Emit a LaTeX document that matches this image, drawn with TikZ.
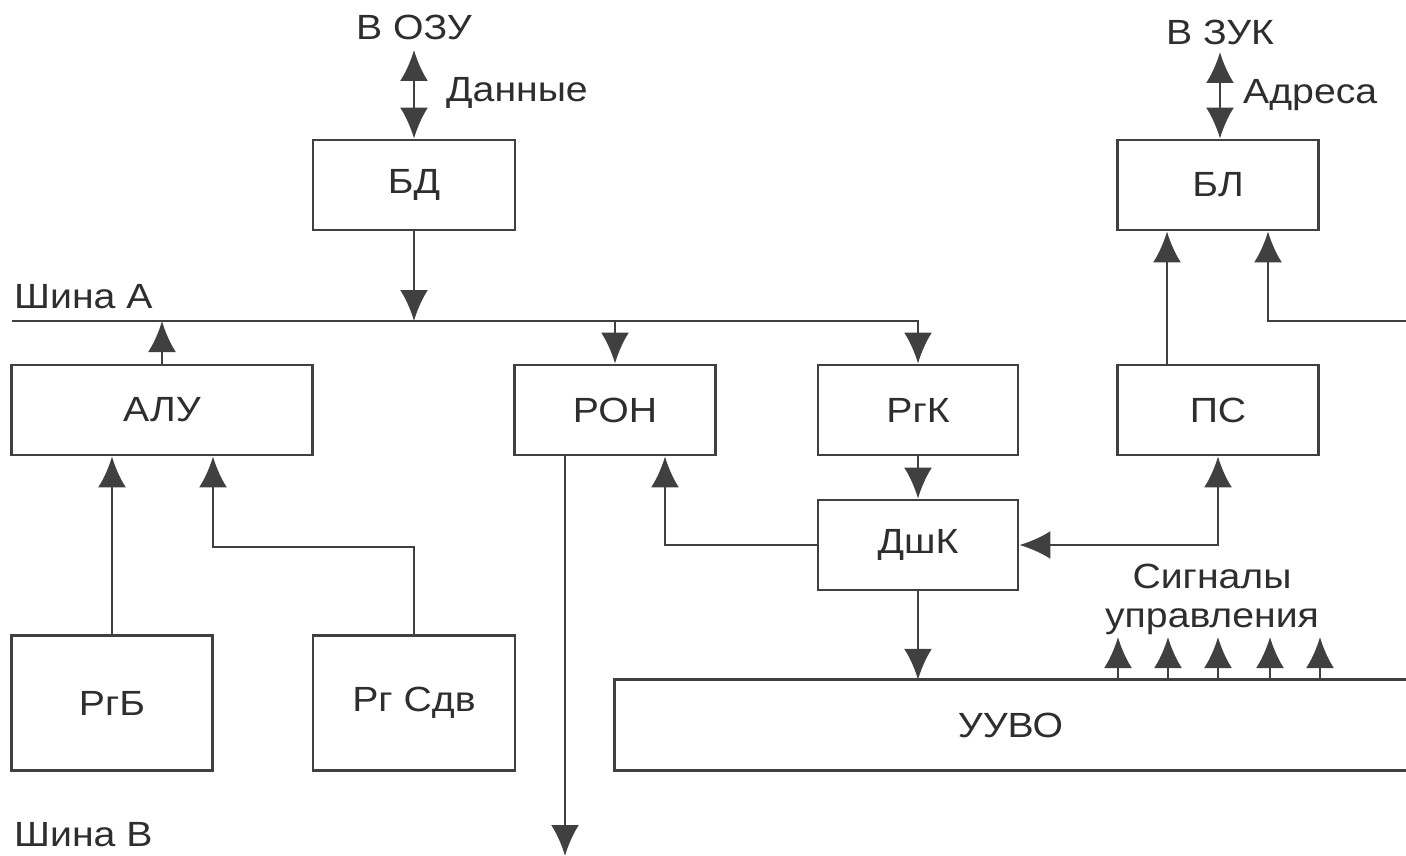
\documentclass[tikz,border=0pt]{standalone}
\usepackage{fontspec}
\setmainfont{Liberation Sans}[FakeStretch=1.12]
\usetikzlibrary{arrows.meta}
\definecolor{ln}{HTML}{404040}
\definecolor{tx}{HTML}{2E2E2E}
\tikzset{
  box/.style={draw=ln, line width=2.8pt, rectangle, inner sep=0pt, text=tx, font=\fontsize{35}{40}\selectfont},
  lbl/.style={text=tx, inner sep=0pt, font=\fontsize{35}{40}\selectfont},
  arr/.style={draw=ln, line width=2.8pt, -{Latex[length=31pt,width=28pt]}},
  arrtwo/.style={draw=ln, line width=2.8pt, {Latex[length=31pt,width=28pt]}-{Latex[length=31pt,width=28pt]}},
  ln/.style={draw=ln, line width=2.8pt}
}
\begin{document}
\begin{tikzpicture}[x=1pt,y=-1pt]
\useasboundingbox (0,0) rectangle (1406,856);
% boxes
\node[box, minimum width=202pt, minimum height=90pt] (bd) at (414,185) {БД};
\node[box, minimum width=201pt, minimum height=90pt] (bl) at (1218,185) {БЛ};
\node[box, minimum width=301pt, minimum height=90pt] (alu) at (162,410) {АЛУ};
\node[box, minimum width=201pt, minimum height=90pt] (ron) at (615,410) {РОН};
\node[box, minimum width=200pt, minimum height=90pt] (rgk) at (918,410) {РгК};
\node[box, minimum width=201pt, minimum height=90pt] (ps) at (1218,410) {ПС};
\node[box, minimum width=200pt, minimum height=90pt] (dshk) at (918,545) {ДшК};
\node[box, minimum width=201pt, minimum height=135pt] (rgb) at (112,703) {РгБ};
\node[box, minimum width=202pt, minimum height=135pt] (rgsdv) at (414,703) {Рг Сдв};
\node[lbl, minimum width=791pt, minimum height=90pt] (uuvo) at (1010.5,725) {УУВО};
\draw[ln] (uuvo.north east) -- (uuvo.north west) -- (uuvo.south west) -- (uuvo.south east);
% labels
\node[lbl] (ozu) at (414,27) {В ОЗУ};
\node[lbl, anchor=west] (dannye) at (446,93) {Данные};
\node[lbl] (zuk) at (1220,32) {В ЗУК};
\node[lbl, anchor=west] (adresa) at (1243,95) {Адреса};
\node[lbl, anchor=west] (shA) at (14,297) {Шина А};
\node[lbl, anchor=west] (shB) at (14,835) {Шина В};
\node[lbl, align=center, font=\fontsize{35}{39}\selectfont] (sig) at (1212,599) {Сигналы\\управления};
% coordinates
\coordinate (busL) at (12,321);
\coordinate (rin) at (1406,321);
\coordinate (ozuend) at (414,50);
\coordinate (zukend) at (1220,52);
\coordinate (busB) at (565,856);
\coordinate (elb) at (213,547);
% connectors
\draw[arrtwo] (ozuend) -- (bd.north);
\draw[arrtwo] (zukend) -- (zukend |- bl.north);
\draw[arr] (bd.south) -- (bd.south |- busL);
\draw[arr] (busL) -| (rgk.north);
\draw[arr] (alu.north) -- (alu.north |- busL);
\draw[arr] (ron.north |- busL) -- (ron.north);
\draw[arr] ([xshift=-51pt]ps.north) -- ([xshift=-51pt]bl.south);
\draw[arr] (rin) -| ([xshift=50pt]bl.south);
\draw[arr] (rgk.south) -- (dshk.north);
\draw[arr] (dshk.west) -| ([xshift=50pt]ron.south);
\draw[arrtwo] (dshk.east) -| (ps.south);
\draw[arr] (dshk.south) -- (dshk.south |- uuvo.north);
\draw[arr] (rgb.north) -- (rgb.north |- alu.south);
\draw[arr] (rgsdv.north) |- (elb) -- (elb |- alu.south);
\draw[arr] (ron.south -| busB) -- (busB);
\foreach \i/\x in {1/1118,2/1168,3/1218,4/1270,5/1320}{
  \coordinate (s\i) at (\x,637);
  \draw[arr] (uuvo.north -| s\i) -- (s\i);
}
\end{tikzpicture}
\end{document}
